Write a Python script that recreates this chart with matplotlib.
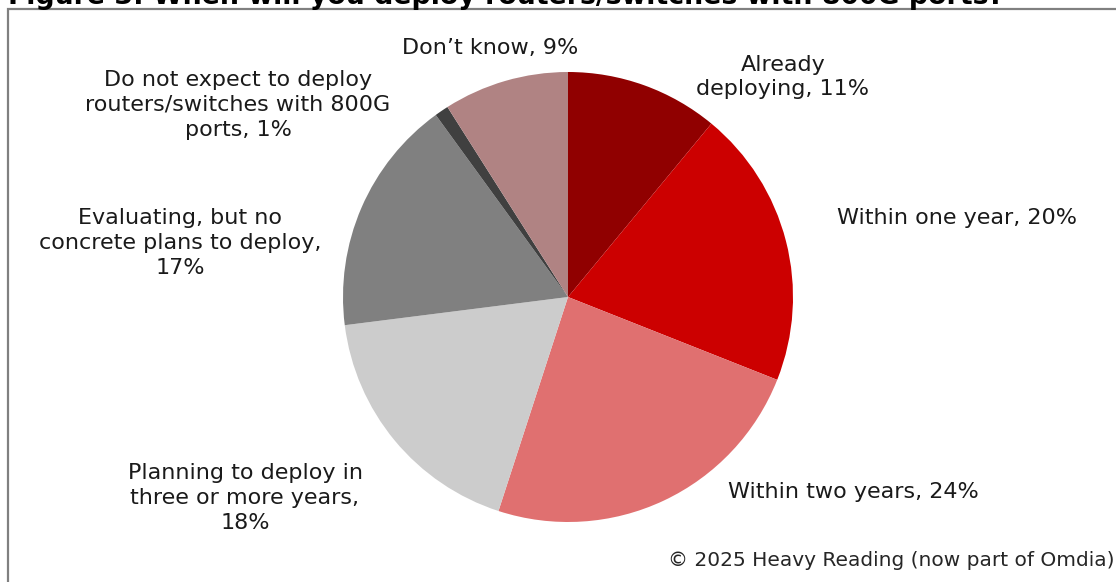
import matplotlib
matplotlib.use("Agg")
import matplotlib.pyplot as plt
from matplotlib.patches import Rectangle

plt.rcParams['font.family'] = ['DejaVu Sans']

categories = [
    "Already\ndeploying",
    "Within one year",
    "Within two years",
    "Planning to deploy in\nthree or more years,\n",
    "Evaluating, but no\nconcrete plans to deploy,\n",
    "Do not expect to deploy\nrouters/switches with 800G\nports",
    "Don\u2019t know",
]
shares = [11, 20, 24, 18, 17, 1, 9]
colors = ["#900000", "#CC0000", "#E07070", "#CCCCCC", "#808080", "#404040", "#B08383"]

title = "Figure 3: When will you deploy routers/switches with 800G ports?"
source = "\u00a9 2025 Heavy Reading (now part of Omdia)"

W, H = 1116, 582
fig = plt.figure(figsize=(W / 100, H / 100), dpi=100)
ax = fig.add_axes([0, 0, 1, 1])

# frame around the chart area
ax.add_patch(Rectangle((8, -20), W + 20, H - 9 + 20, fill=False,
                       edgecolor="#808080", linewidth=1.6, zorder=0))

ax.pie(shares, colors=colors, startangle=90, counterclock=False,
       center=(568, H - 297), radius=225, frame=True,
       wedgeprops=dict(linewidth=0))
ax.set_xlim(0, W)
ax.set_ylim(0, H)
ax.set_aspect("equal")
ax.axis("off")

label_pos = [(783, 77), (957, 218), (853, 492), (245, 498),
             (180, 243), (238, 105), (490, 48)]
for name, val, (x, y) in zip(categories, shares, label_pos):
    sep = "" if name.endswith("\n") else ", "
    ax.text(x, H - y, f"{name}{sep}{val}%", ha="center", va="center",
            fontsize=16, color="#1a1a1a", linespacing=1.3)

ax.text(668, H - 560, source, ha="left", va="center", fontsize=14.5, color="#262626")

fig.text(8 / W, 1 - 4 / H, title, ha="left", va="baseline",
         fontsize=19.3, fontweight="bold", color="black")

fig.savefig("out.png", dpi=100)
